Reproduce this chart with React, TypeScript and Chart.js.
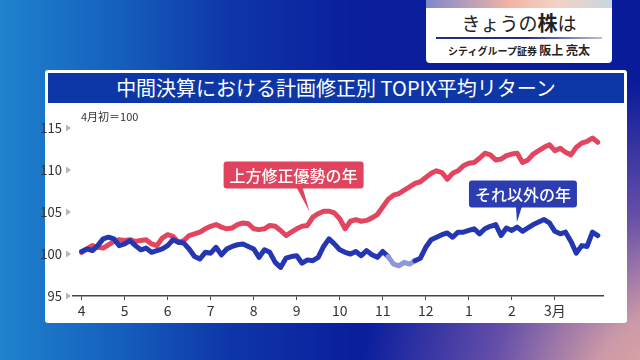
import React, { useEffect, useRef } from 'react';
import { Chart, registerables } from 'chart.js';

Chart.register(...registerables);

const monthLabels = ['4', '5', '6', '7', '8', '9', '10', '11', '12', '1', '2', '3月'];
const yTicks = [95, 100, 105, 110, 115];
const pointsPerMonth = 8;

const upwardYears = [
  100.2, 100.6, 101.0, 100.8, 100.7, 101.1, 101.5, 101.7,
  101.6, 101.7, 101.5, 101.6, 101.7, 101.2, 101.0, 101.9,
  102.3, 102.1, 101.4, 101.6, 102.2, 102.4, 102.6, 103.0,
  103.3, 103.5, 103.2, 103.0, 103.1, 103.5, 103.7, 103.6,
  103.0, 102.9, 103.0, 103.4, 103.3, 102.8, 102.2, 102.6,
  103.0, 103.3, 103.4, 104.4, 104.8, 105.1, 105.1, 104.9,
  104.2, 103.0, 103.9, 104.1, 103.9, 104.0, 104.3, 104.7,
  105.6, 106.5, 107.0, 107.2, 107.6, 108.0, 108.4, 108.6,
  109.1, 109.6, 109.9, 109.7, 108.9, 109.6, 109.9, 110.5,
  110.8, 110.9, 111.4, 112.0, 111.8, 111.2, 111.3, 111.7,
  111.9, 112.0, 110.9, 111.2, 111.9, 112.3, 112.7, 113.0,
  112.3, 112.6, 112.1, 111.8, 112.7, 113.2, 113.4, 113.8,
  113.3,
];

const otherYears = [
  100.3, 100.6, 100.4, 101.0, 101.8, 102.0, 101.8, 101.0,
  101.2, 101.6, 101.0, 100.5, 100.7, 100.2, 100.4, 100.6,
  101.0, 101.7, 101.4, 101.3, 100.6, 99.7, 99.4, 100.2,
  100.1, 100.8, 99.9, 100.6, 100.9, 101.1, 101.2, 100.9,
  100.6, 99.6, 100.5, 100.2, 99.0, 98.4, 99.5, 99.7,
  99.8, 98.9, 99.3, 99.2, 99.6, 100.9, 101.8, 101.2,
  100.5, 100.2, 100.0, 100.3, 99.8, 100.4, 99.9, 99.6,
  100.3, 99.7, 98.8, 98.6, 99.0, 98.8, 99.2, 99.5,
  100.8, 101.7, 102.0, 102.3, 102.5, 102.0, 102.6, 102.6,
  102.8, 103.0, 102.4, 103.0, 103.3, 103.5, 102.2, 103.1,
  102.8, 103.2, 102.7, 103.1, 103.5, 103.8, 104.1, 103.7,
  102.7, 102.4, 102.6, 101.5, 100.1, 101.0, 100.9, 102.6,
  102.2,
];

const upLabel = '上方修正優勢の年';
const otherLabel = 'それ以外の年';
const baseNote = '4月初＝100';
const titleText = '中間決算における計画修正別 TOPIX平均リターン';

const RED = '#e2455f';
const BLUE = '#2436b2';
const BLUE_FADED = '#8e97d9';
const FONT = '"Noto Sans CJK JP", "Noto Sans", sans-serif';

const callouts = [
  { text: upLabel, color: '#e0435e', tipX: 5.3, tipY: 105.0, dx: -16, dy: -37, baseDx: -10 },
  { text: otherLabel, color: '#2b3db0', tipX: 10.12, tipY: 103.8, dx: 6, dy: -28, baseDx: 2 },
];

const overlayPlugin = {
  id: 'overlay',
  afterDatasetsDraw(chart: any) {
    const { ctx, chartArea, scales } = chart;
    const xs = scales.x;
    const ys = scales.y;
    ctx.save();
    // tick triangles
    ctx.fillStyle = '#b5b5b5';
    yTicks.forEach((v) => {
      const py = ys.getPixelForValue(v);
      ctx.beginPath();
      ctx.moveTo(chartArea.left - 7, py - 3.5);
      ctx.lineTo(chartArea.left - 2, py);
      ctx.lineTo(chartArea.left - 7, py + 3.5);
      ctx.closePath();
      ctx.fill();
    });
    // base note
    ctx.fillStyle = '#333';
    ctx.font = `11px ${FONT}`;
    ctx.textAlign = 'left';
    ctx.textBaseline = 'middle';
    ctx.fillText(baseNote, chartArea.left + 8, chartArea.top - 11);
    // callouts
    callouts.forEach((c) => {
      const tx = xs.getPixelForValue(c.tipX);
      const ty = ys.getPixelForValue(c.tipY);
      ctx.font = `500 16px ${FONT}`;
      const w = ctx.measureText(c.text).width + 12;
      const h = 27;
      const cx = tx + c.dx;
      const cy = ty + c.dy;
      const left = cx - w / 2;
      const top = cy - h / 2;
      ctx.fillStyle = c.color;
      ctx.beginPath();
      ctx.moveTo(tx + c.baseDx - 3, top + h - 1);
      ctx.lineTo(tx + c.baseDx + 3, top + h - 1);
      ctx.lineTo(tx, ty);
      ctx.closePath();
      ctx.fill();
      ctx.beginPath();
      (ctx as any).roundRect(left, top, w, h, 3);
      ctx.fill();
      ctx.fillStyle = '#ffffff';
      ctx.textAlign = 'center';
      ctx.textBaseline = 'middle';
      ctx.fillText(c.text, cx, cy + 1);
    });
    ctx.restore();
  },
};

function ChartView() {
  const ref = useRef<HTMLCanvasElement | null>(null);
  useEffect(() => {
    if (!ref.current) return;
    const toPoints = (arr: number[]) => arr.map((v, i) => ({ x: i / pointsPerMonth, y: v }));
    const chart = new Chart(ref.current, {
      type: 'line',
      data: {
        datasets: [
          {
            label: otherLabel,
            data: toPoints(otherYears),
            borderColor: BLUE,
            borderWidth: 5,
            pointRadius: 0,
            tension: 0,
            borderJoinStyle: 'round',
            borderCapStyle: 'round',
            segment: {
              borderColor: (c: any) =>
                c.p0.parsed.x >= 7.1 && c.p1.parsed.x <= 7.8 ? BLUE_FADED : undefined,
            },
          } as any,
          {
            label: upLabel,
            data: toPoints(upwardYears),
            borderColor: RED,
            borderWidth: 5,
            pointRadius: 0,
            tension: 0,
            borderJoinStyle: 'round',
            borderCapStyle: 'round',
          } as any,
        ],
      },
      options: {
        animation: false,
        responsive: false,
        maintainAspectRatio: false,
        layout: { padding: { top: 24, right: 17, bottom: 0, left: 0 } },
        plugins: { legend: { display: false }, tooltip: { enabled: false } },
        scales: {
          x: {
            type: 'linear',
            min: -0.2,
            max: 12.12,
            afterBuildTicks: (scale: any) => {
              scale.ticks = monthLabels.map((_, i) => ({ value: i }));
            },
            afterFit: (scale: any) => {
              scale.height = 27;
            },
            border: { display: true, color: '#444', width: 1.5 },
            grid: { display: true, drawOnChartArea: false, drawTicks: true, tickLength: 4, color: '#444', lineWidth: 1 },
            ticks: {
              autoSkip: false,
              maxRotation: 0,
              padding: 2,
              color: '#333',
              font: { family: FONT, size: 14 },
              callback: (v: any) => monthLabels[Math.round(Number(v))] ?? '',
            },
          },
          y: {
            type: 'linear',
            min: 95,
            max: 115,
            afterBuildTicks: (scale: any) => {
              scale.ticks = yTicks.map((v) => ({ value: v }));
            },
            afterFit: (scale: any) => {
              scale.width = 33;
            },
            border: { display: false },
            grid: { display: false, drawTicks: false },
            ticks: {
              padding: 11,
              color: '#333',
              font: { family: FONT, size: 13 },
            },
          },
        },
      },
      plugins: [overlayPlugin],
    } as any);
    return () => chart.destroy();
  }, []);
  return <canvas ref={ref} width={580} height={219} style={{ position: 'absolute', left: 40, top: 104, width: 580, height: 219 }} />;
}

export default function App() {
  return (
    <div
      style={{
        position: 'fixed',
        left: 0,
        top: 0,
        width: 640,
        height: 360,
        overflow: 'hidden',
        fontFamily: FONT,
        background:
          'radial-gradient(circle at 680px 400px, rgba(236,176,160,1) 0px, rgba(214,160,168,0.95) 90px, rgba(140,100,175,0.7) 190px, rgba(20,40,160,0) 320px), linear-gradient(90deg, #1f83cd 0%, #1560bd 18%, #0e36a8 36%, #0a1f9d 55%, #0a1b9a 100%)',
      }}
    >
      {/* top-right card */}
      <div
        style={{
          position: 'absolute',
          left: 426,
          top: 0,
          width: 186,
          height: 63,
          background: '#ffffff',
          borderRadius: '0 0 4px 4px',
          overflow: 'hidden',
        }}
      >
        <div style={{ height: 8, background: 'linear-gradient(90deg, #7d88cc 0%, #f2b4a4 45%, #f4d2c4 70%, #c8d6e4 100%)' }} />
        <div style={{ position: 'absolute', top: 11, left: 0, width: 186, textAlign: 'center', fontSize: 19, color: '#222', lineHeight: '24px' }}>
          きょうの<span style={{ fontWeight: 700, fontSize: 20 }}>株</span>は
        </div>
        <div style={{ position: 'absolute', top: 37, left: 10, width: 166, height: 2, background: 'linear-gradient(90deg, #23307f 0%, #23307f 55%, #b8c0d8 100%)' }} />
        <div style={{ position: 'absolute', top: 42, left: 0, width: 186, textAlign: 'center', fontSize: 10, color: '#222', lineHeight: '16px', fontWeight: 700 }}>
          シティグループ証券 <span style={{ fontSize: 12 }}>阪上 亮太</span>
        </div>
      </div>

      {/* white panel */}
      <div
        style={{
          position: 'absolute',
          left: 45,
          top: 70,
          width: 582,
          height: 253,
          background: '#ffffff',
          borderRadius: 3,
        }}
      />
      <div
        style={{
          position: 'absolute',
          left: 48,
          top: 73,
          width: 576,
          height: 30,
          background: '#0d37a6',
          color: '#ffffff',
          fontSize: 20,
          lineHeight: '30px',
          textAlign: 'center',
          whiteSpace: 'nowrap',
        }}
      >
        {titleText}
      </div>
      <ChartView />
    </div>
  );
}
